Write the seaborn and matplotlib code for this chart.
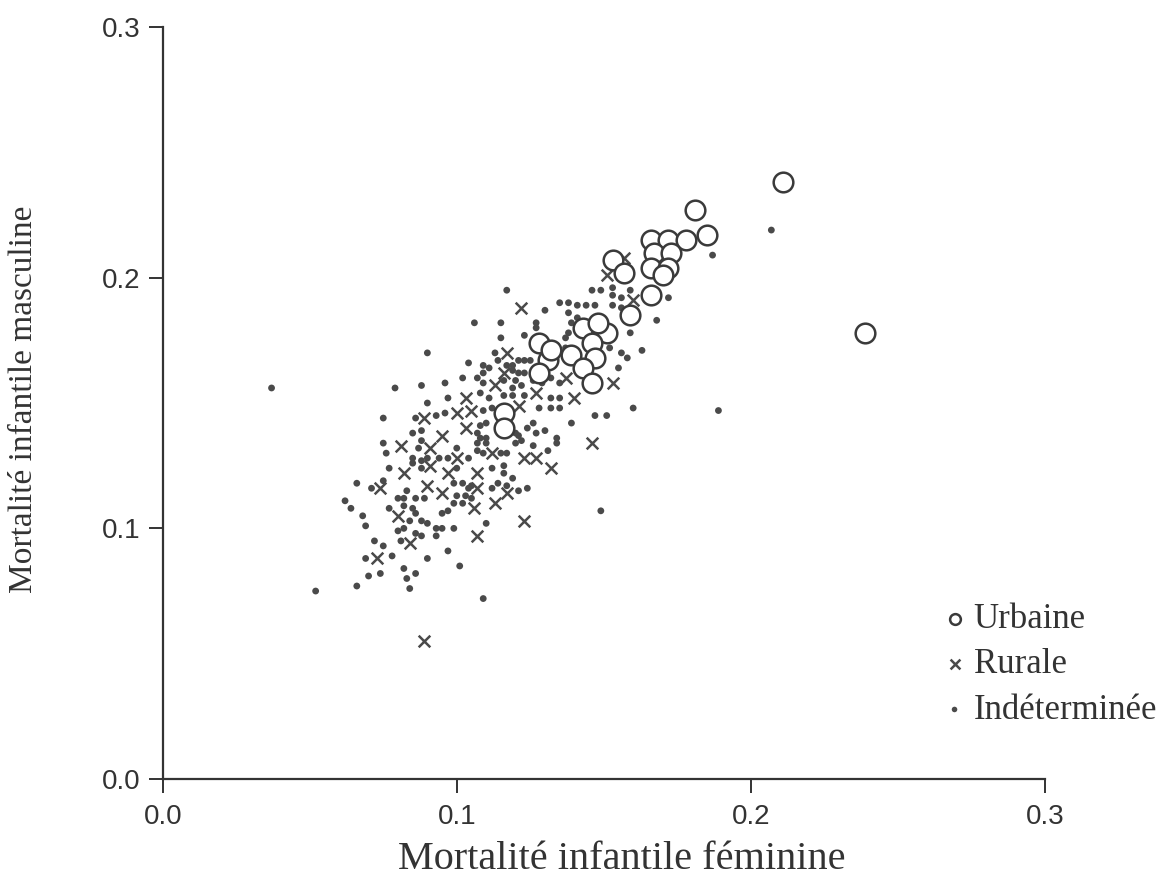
import pandas as pd
import matplotlib
matplotlib.use("Agg")
import matplotlib.pyplot as plt
import seaborn as sns

# Urbaine (circles): female / male infant mortality
urb_fem = [0.211, 0.181, 0.185, 0.166, 0.172, 0.178, 0.167, 0.173, 0.153, 0.157,
           0.166, 0.172, 0.170, 0.166, 0.159, 0.151, 0.128, 0.131, 0.128, 0.143,
           0.148, 0.146, 0.139, 0.147, 0.143, 0.146, 0.116, 0.116, 0.239, 0.132]
urb_masc = [0.238, 0.227, 0.217, 0.215, 0.215, 0.215, 0.210, 0.210, 0.207, 0.202,
            0.204, 0.204, 0.201, 0.193, 0.185, 0.178, 0.174, 0.167, 0.162, 0.180,
            0.182, 0.174, 0.169, 0.168, 0.164, 0.158, 0.146, 0.140, 0.178, 0.171]

# Rurale (crosses)
rur_fem = [0.089, 0.100, 0.095, 0.081, 0.091, 0.100, 0.091, 0.082, 0.097, 0.074,
           0.090, 0.095, 0.080, 0.103, 0.103, 0.084, 0.073, 0.089, 0.122, 0.117,
           0.116, 0.113, 0.105, 0.121, 0.127, 0.140, 0.137, 0.153, 0.146, 0.132,
           0.127, 0.123, 0.112, 0.107, 0.107, 0.106, 0.113, 0.117, 0.123, 0.107,
           0.157, 0.151, 0.160]
rur_masc = [0.144, 0.146, 0.137, 0.133, 0.132, 0.128, 0.125, 0.122, 0.122, 0.116,
            0.117, 0.114, 0.105, 0.152, 0.140, 0.094, 0.088, 0.055, 0.188, 0.170,
            0.162, 0.157, 0.147, 0.149, 0.154, 0.152, 0.160, 0.158, 0.134, 0.124,
            0.128, 0.128, 0.130, 0.122, 0.116, 0.108, 0.110, 0.114, 0.103, 0.097,
            0.208, 0.201, 0.191]

# Indeterminee (small dots)
ind_fem = [0.037, 0.052, 0.090, 0.079, 0.088, 0.096, 0.102, 0.090, 0.097, 0.075,
           0.086, 0.093, 0.096, 0.085, 0.088, 0.075, 0.076, 0.088, 0.087, 0.085,
           0.085, 0.088, 0.090, 0.088, 0.094, 0.097, 0.100, 0.100, 0.077, 0.075,
           0.066, 0.071, 0.083, 0.062, 0.064, 0.068, 0.069, 0.077, 0.080, 0.082,
           0.086, 0.089, 0.082, 0.085, 0.086, 0.088, 0.084, 0.090, 0.095, 0.097,
           0.099, 0.102, 0.100, 0.103, 0.099, 0.102, 0.104, 0.080, 0.082, 0.086,
           0.088, 0.093, 0.095, 0.099, 0.093, 0.072, 0.075, 0.081, 0.069, 0.078,
           0.090, 0.082, 0.086, 0.083, 0.074, 0.070, 0.066, 0.084, 0.097, 0.101,
           0.117, 0.146, 0.149, 0.153, 0.153, 0.135, 0.138, 0.141, 0.144, 0.147,
           0.153, 0.130, 0.138, 0.127, 0.127, 0.115, 0.106, 0.139, 0.138, 0.137,
           0.134, 0.137, 0.152, 0.115, 0.123, 0.104, 0.113, 0.114, 0.121, 0.123,
           0.125, 0.117, 0.119, 0.109, 0.111, 0.109, 0.119, 0.121, 0.123, 0.107,
           0.109, 0.120, 0.122, 0.119, 0.116, 0.132, 0.135, 0.126, 0.129, 0.108,
           0.111, 0.116, 0.119, 0.123, 0.132, 0.135, 0.128, 0.132, 0.135, 0.147,
           0.151, 0.112, 0.109, 0.108, 0.110, 0.126, 0.124, 0.130, 0.139, 0.127,
           0.134, 0.134, 0.107, 0.108, 0.107, 0.110, 0.110, 0.120, 0.121, 0.122,
           0.120, 0.126, 0.107, 0.109, 0.115, 0.117, 0.131, 0.104, 0.112, 0.116,
           0.116, 0.119, 0.105, 0.112, 0.114, 0.117, 0.121, 0.124, 0.105, 0.110,
           0.109, 0.149, 0.207, 0.187, 0.172, 0.168, 0.159, 0.156, 0.159, 0.156,
           0.156, 0.163, 0.158, 0.155, 0.160, 0.189, 0.141]
ind_masc = [0.156, 0.075, 0.170, 0.156, 0.157, 0.158, 0.160, 0.150, 0.152, 0.144,
            0.144, 0.145, 0.146, 0.138, 0.139, 0.134, 0.130, 0.135, 0.132, 0.128,
            0.126, 0.127, 0.128, 0.124, 0.128, 0.128, 0.132, 0.124, 0.124, 0.119,
            0.118, 0.116, 0.115, 0.111, 0.108, 0.105, 0.101, 0.108, 0.112, 0.112,
            0.112, 0.112, 0.109, 0.108, 0.106, 0.103, 0.103, 0.102, 0.106, 0.107,
            0.110, 0.110, 0.113, 0.113, 0.118, 0.118, 0.116, 0.099, 0.100, 0.098,
            0.097, 0.100, 0.100, 0.100, 0.097, 0.095, 0.093, 0.095, 0.088, 0.089,
            0.088, 0.084, 0.082, 0.080, 0.082, 0.081, 0.077, 0.076, 0.091, 0.085,
            0.195, 0.195, 0.195, 0.196, 0.193, 0.190, 0.190, 0.189, 0.189, 0.189,
            0.189, 0.187, 0.186, 0.182, 0.180, 0.182, 0.182, 0.182, 0.178, 0.176,
            0.173, 0.172, 0.172, 0.176, 0.177, 0.166, 0.170, 0.167, 0.167, 0.167,
            0.167, 0.165, 0.165, 0.165, 0.164, 0.162, 0.163, 0.162, 0.162, 0.160,
            0.158, 0.159, 0.157, 0.156, 0.159, 0.160, 0.158, 0.159, 0.158, 0.154,
            0.152, 0.153, 0.153, 0.153, 0.152, 0.152, 0.148, 0.148, 0.148, 0.145,
            0.145, 0.148, 0.147, 0.141, 0.142, 0.142, 0.140, 0.139, 0.142, 0.138,
            0.136, 0.134, 0.138, 0.136, 0.134, 0.134, 0.136, 0.138, 0.137, 0.135,
            0.134, 0.133, 0.131, 0.130, 0.130, 0.130, 0.131, 0.128, 0.124, 0.125,
            0.122, 0.120, 0.117, 0.116, 0.118, 0.117, 0.115, 0.116, 0.112, 0.102,
            0.072, 0.107, 0.219, 0.209, 0.192, 0.183, 0.178, 0.192, 0.195, 0.188,
            0.170, 0.171, 0.168, 0.164, 0.148, 0.147, 0.184]

zones = ["Urbaine", "Rurale", "Indéterminée"]

df = pd.concat([
    pd.DataFrame({"fem": urb_fem, "masc": urb_masc, "zone": zones[0]}),
    pd.DataFrame({"fem": rur_fem, "masc": rur_masc, "zone": zones[1]}),
    pd.DataFrame({"fem": ind_fem, "masc": ind_masc, "zone": zones[2]}),
], ignore_index=True)

sns.set_style("ticks")
plt.rcParams['font.family'] = ['Liberation Sans', 'DejaVu Sans']
serif = {"family": ["Liberation Serif", "DejaVu Serif"]}
ink = "#4a4a4a"

fig = plt.figure(figsize=(11.71, 8.88), dpi=100)
ax = fig.add_axes([0.139, 0.1227, 0.7532, 0.8469])

# dots first, then crosses, circles on top (white fill)
sns.scatterplot(data=df[df.zone == zones[2]], x="fem", y="masc", marker="o", s=24,
                color=ink, edgecolor="none", ax=ax, label=zones[2], zorder=2)
sns.scatterplot(data=df[df.zone == zones[1]], x="fem", y="masc", marker="x", s=70,
                color=ink, linewidth=1.8, ax=ax, label=zones[1], zorder=3)
sns.scatterplot(data=df[df.zone == zones[0]], x="fem", y="masc", marker="o", s=200,
                color="white", edgecolor="#3a3a3a", linewidth=1.8, ax=ax,
                label=zones[0], zorder=4)

ax.set_xlim(0, 0.3)
ax.set_ylim(0, 0.3)
ax.set_xticks([0.0, 0.1, 0.2, 0.3])
ax.set_yticks([0.0, 0.1, 0.2, 0.3])
ax.set_xticklabels(["0.0", "0.1", "0.2", "0.3"])
ax.set_yticklabels(["0.0", "0.1", "0.2", "0.3"])
ax.tick_params(direction="out", length=10, width=1.4, labelsize=20, colors="#333333")
ax.tick_params(axis="x", pad=8)
ax.tick_params(axis="y", pad=6)
sns.despine(ax=ax)
for sp in ["left", "bottom"]:
    ax.spines[sp].set_linewidth(1.6)
    ax.spines[sp].set_color("#333333")

ax.set_xlabel("Mortalité infantile féminine", fontdict=serif, fontsize=29, color="#333333")
ax.set_ylabel("Mortalité infantile masculine", fontdict=serif, fontsize=24, color="#333333")
ax.xaxis.set_label_coords(0.52, -0.082)
ax.yaxis.set_label_coords(-0.14, 0.505)

handles, labels = ax.get_legend_handles_labels()
order = [labels.index(z) for z in zones]
leg = ax.legend([handles[i] for i in order], [labels[i] for i in order],
                loc="upper left", bbox_to_anchor=(0.784, 0.348),
                bbox_transform=fig.transFigure, frameon=False,
                prop={"family": serif["family"], "size": 25},
                handletextpad=0.2, labelspacing=0.35, handlelength=0.7,
                borderpad=0.2, labelcolor="#333333")
for h, sz in zip(leg.legend_handles, [60, 50, 16]):
    h.set_sizes([sz])

fig.savefig("out.png", dpi=100, facecolor="white")
